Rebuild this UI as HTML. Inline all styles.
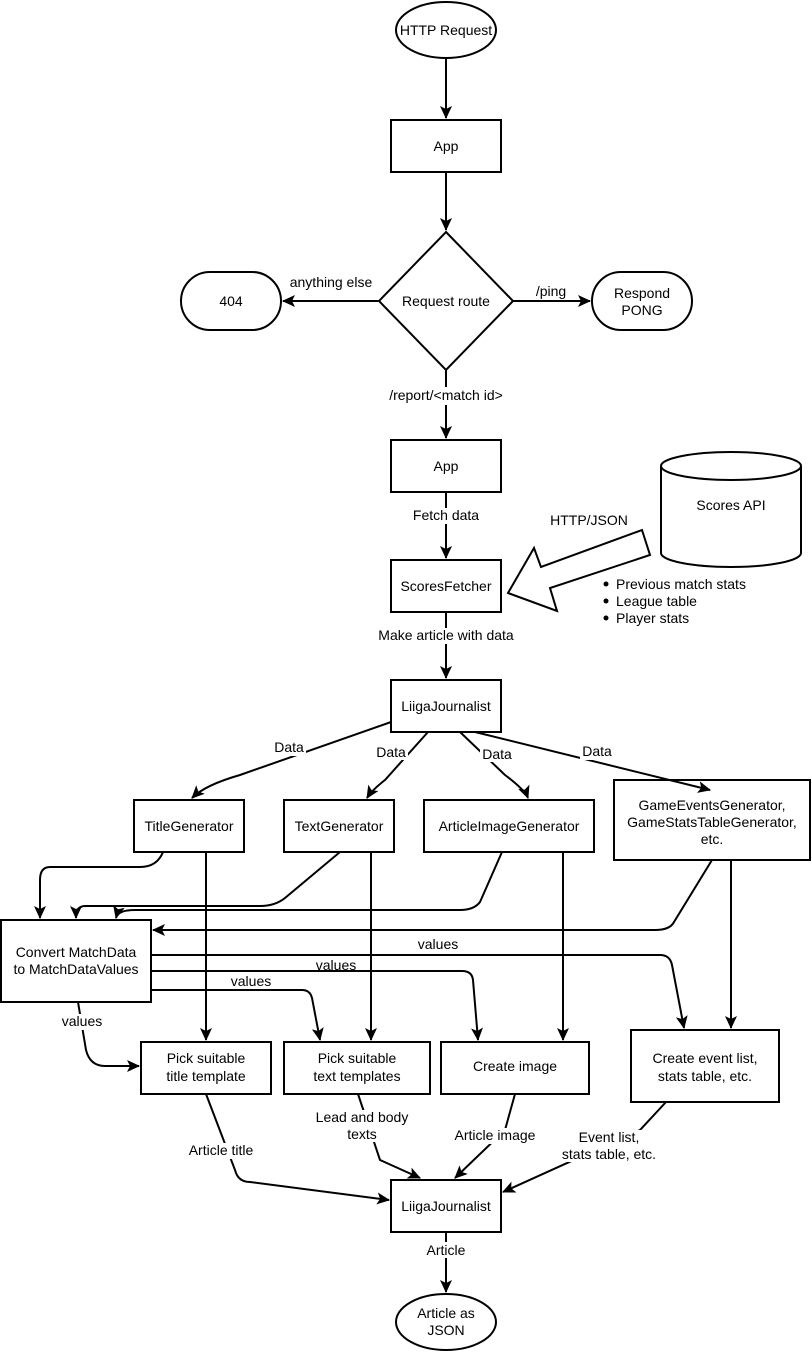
<!DOCTYPE html>
<html><head><meta charset="utf-8"><style>
body{margin:0;background:#fff}
svg{display:block}
text{font-family:"Liberation Sans",sans-serif;font-size:14px;fill:#000}
</style></head><body>
<svg width="812" height="1352" viewBox="0 0 812 1352" xmlns="http://www.w3.org/2000/svg">
<defs><marker id="a" markerWidth="14" markerHeight="12" refX="12" refY="6" orient="auto" markerUnits="userSpaceOnUse"><path d="M0,0 L13,6 L0,12 L3,6 z" fill="#000"/></marker></defs>
<g fill="#fff" stroke="#000" stroke-width="2">
<ellipse cx="446" cy="30" rx="50" ry="28"/>
<rect x="391" y="120" width="110" height="52"/>
<polygon points="446,232 513,301 446,370 379,301"/>
<rect x="181" y="272" width="100" height="58" rx="29"/>
<rect x="592" y="272" width="100" height="58" rx="29"/>
<rect x="391" y="440" width="110" height="52"/>
<rect x="391" y="560" width="110" height="52"/>
<path d="M661,466 L661,553 A70,14 0 0 0 801,553 L801,466 A70,14 0 0 0 661,466 A70,14 0 0 0 801,466"/>
<polygon points="508,593 534,548 541,567 642,530 650,555 550,588 557,611"/>
<rect x="391" y="680" width="110" height="52"/>
<rect x="134" y="800" width="110" height="52"/>
<rect x="284" y="800" width="110" height="52"/>
<rect x="424" y="800" width="170" height="52"/>
<rect x="614" y="780" width="196" height="80"/>
<rect x="1" y="920" width="150" height="82"/>
<rect x="141" y="1042" width="130" height="52"/>
<rect x="284" y="1042" width="146" height="52"/>
<rect x="441" y="1042" width="148" height="52"/>
<rect x="631" y="1030" width="148" height="72"/>
<rect x="391" y="1180" width="110" height="52"/>
<ellipse cx="446" cy="1322" rx="50" ry="28"/>
</g>
<g fill="none" stroke="#000" stroke-width="2" marker-end="url(#a)">
<path d="M446,58 L446,118"/>
<path d="M446,172 L446,230"/>
<path d="M379,301 L283,301"/>
<path d="M513,301 L590,301"/>
<path d="M446,370 L446,438"/>
<path d="M446,492 L446,558"/>
<path d="M446,612 L446,678"/>
<path d="M391,722 L240,775 Q205,785 192,798"/>
<path d="M428,732 L385,780 Q372,790 367,798"/>
<path d="M460,732 L505,775 Q525,790 528,798"/>
<path d="M475,732 L710,790"/>
<path d="M163,852 Q157,867 140,867 L50,867 Q40,867 40,880 L40,918"/>
<path d="M340,852 L285,898 Q275,906 260,906 L85,906 Q76,906 76,918"/>
<path d="M502,852 L480,902 Q474,910 460,910 L135,910 Q118,910 116,918"/>
<path d="M712,860 L674,922 Q670,930 655,930 L153,930"/>
<path d="M151,955 L660,955 Q670,955 672,965 L684,1028"/>
<path d="M151,971 L462,971 Q472,971 473,980 L478,1040"/>
<path d="M151,990 L302,990 Q310,990 312,998 L320,1040"/>
<path d="M78,1002 L86,1050 Q90,1066 105,1066 L139,1066"/>
<path d="M206,852 L206,1040"/>
<path d="M371,852 L371,1040"/>
<path d="M563,852 L563,1040"/>
<path d="M731,860 L731,1028"/>
<path d="M206,1094 L235,1170 Q238,1182 250,1182 L389,1200"/>
<path d="M358,1094 L380,1160 L420,1178"/>
<path d="M515,1094 L505,1130 L455,1178"/>
<path d="M666,1102 L640,1130 L503,1192"/>
<path d="M446,1232 L446,1292"/>
</g>
<g text-anchor="middle">
<text x="446" y="35">HTTP Request</text>
<text x="446" y="151">App</text>
<text x="446" y="306">Request route</text>
<text x="231" y="306">404</text>
<text x="642" y="298">Respond</text>
<text x="642" y="315">PONG</text>
<text x="446" y="471">App</text>
<text x="446" y="591">ScoresFetcher</text>
<text x="731" y="510">Scores API</text>
<text x="446" y="711">LiigaJournalist</text>
<text x="189" y="831">TitleGenerator</text>
<text x="339" y="831">TextGenerator</text>
<text x="509" y="831">ArticleImageGenerator</text>
<text x="712" y="810">GameEventsGenerator,</text>
<text x="712" y="827">GameStatsTableGenerator,</text>
<text x="712" y="844">etc.</text>
<text x="76" y="957">Convert MatchData</text>
<text x="76" y="974">to MatchDataValues</text>
<text x="206" y="1063">Pick suitable</text>
<text x="206" y="1081">title template</text>
<text x="357" y="1063">Pick suitable</text>
<text x="357" y="1081">text templates</text>
<text x="515" y="1071">Create image</text>
<text x="705" y="1063">Create event list,</text>
<text x="705" y="1081">stats table, etc.</text>
<text x="446" y="1211">LiigaJournalist</text>
<text x="446" y="1318">Article as</text>
<text x="446" y="1335">JSON</text>
</g>
<g text-anchor="middle">
<rect x="285" y="274" width="92" height="16" fill="#fff"/>
<text x="331" y="287">anything else</text>
<text x="551" y="296">/ping</text>
<rect x="380" y="387" width="132" height="18" fill="#fff"/>
<text x="446" y="400">/report/&lt;match id&gt;</text>
<rect x="405" y="508" width="82" height="16" fill="#fff"/>
<text x="446" y="520">Fetch data</text>
<text x="589" y="525">HTTP/JSON</text>
<rect x="372" y="628" width="148" height="16" fill="#fff"/>
<text x="446" y="640">Make article with data</text>
<rect x="270" y="740" width="36" height="16" fill="#fff"/>
<text x="289" y="752">Data</text>
<rect x="374" y="744" width="34" height="16" fill="#fff"/>
<text x="391" y="757">Data</text>
<rect x="480" y="746" width="34" height="16" fill="#fff"/>
<text x="497" y="759">Data</text>
<rect x="580" y="744" width="34" height="16" fill="#fff"/>
<text x="597" y="756">Data</text>
<text x="438" y="949">values</text>
<text x="336" y="970">values</text>
<text x="251" y="986">values</text>
<rect x="58" y="1014" width="48" height="16" fill="#fff"/>
<text x="82" y="1026">values</text>
<rect x="180" y="1143" width="84" height="16" fill="#fff"/>
<text x="221" y="1155">Article title</text>
<rect x="322" y="1110" width="84" height="32" fill="#fff"/>
<text x="362" y="1122">Lead and body</text>
<text x="362" y="1139">texts</text>
<rect x="450" y="1128" width="92" height="16" fill="#fff"/>
<text x="495" y="1140">Article image</text>
<rect x="556" y="1130" width="106" height="32" fill="#fff"/>
<text x="609" y="1142">Event list,</text>
<text x="609" y="1159">stats table, etc.</text>
<rect x="420" y="1242" width="52" height="16" fill="#fff"/>
<text x="446" y="1255">Article</text>
</g>
<g>
<circle cx="606" cy="584" r="2.5"/><text x="616" y="589">Previous match stats</text>
<circle cx="606" cy="601" r="2.5"/><text x="616" y="606">League table</text>
<circle cx="606" cy="618" r="2.5"/><text x="616" y="623">Player stats</text>
</g>
</svg>
</body></html>
